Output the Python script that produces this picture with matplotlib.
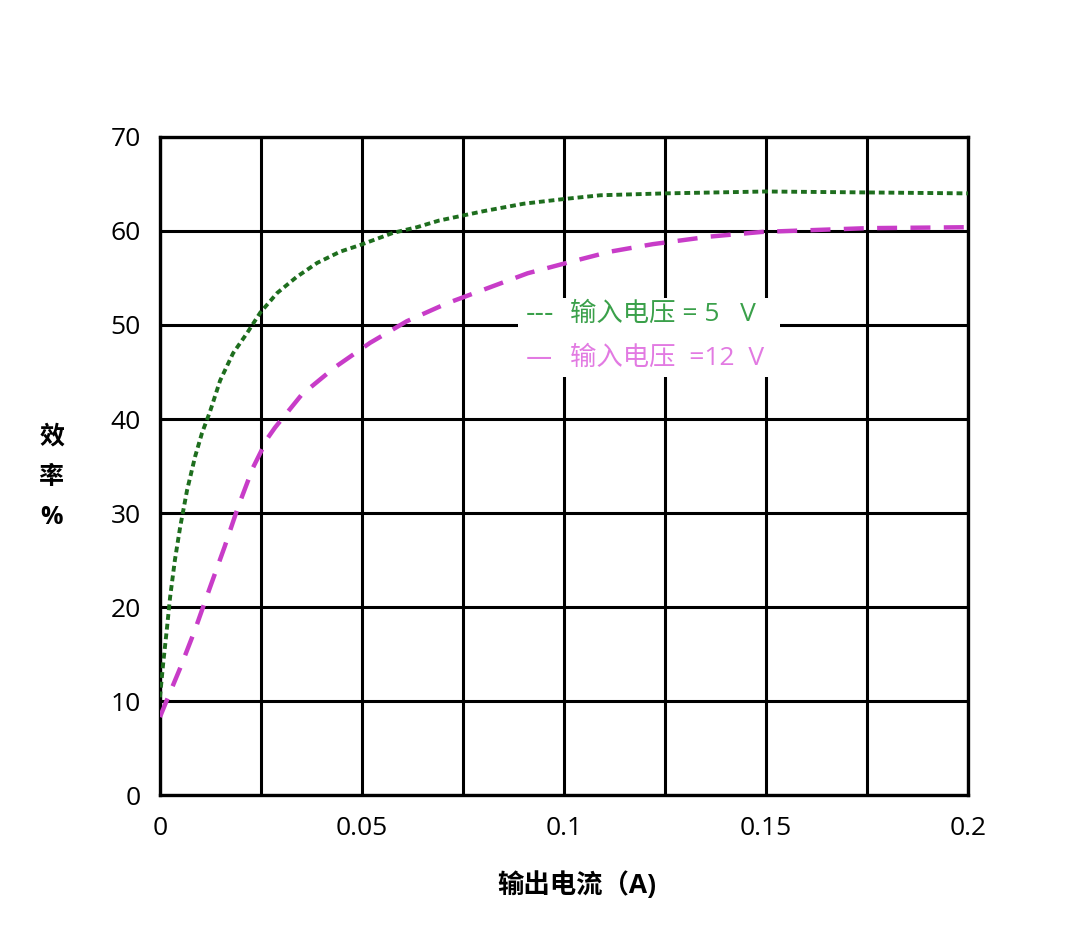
import numpy as np
import matplotlib
matplotlib.use("Agg")
import matplotlib.pyplot as plt
from matplotlib.ticker import MultipleLocator, FuncFormatter

plt.rcParams['font.family'] = ['Open Sans', 'Noto Sans CJK SC', 'DejaVu Sans']

### --- data
x_5v  = [0, 0.0008, 0.0017, 0.0025, 0.0037, 0.005, 0.0067, 0.0087, 0.0104, 0.0124,
         0.0149, 0.0181, 0.0215, 0.0248, 0.029, 0.0338, 0.0389, 0.0446, 0.0495,
         0.0577, 0.0636, 0.069, 0.08, 0.09, 0.1, 0.109, 0.125, 0.15, 0.175, 0.2]
y_5v  = [10.4, 14.0, 17.6, 21.0, 25.0, 28.5, 32.4, 36.0, 38.5, 40.8,
         44.1, 47.0, 49.1, 51.3, 53.4, 55.1, 56.6, 57.8, 58.5,
         59.8, 60.4, 61.1, 62.1, 62.9, 63.4, 63.8, 64.0, 64.2, 64.1, 64.0]

x_12v = [0, 0.002, 0.005, 0.0087, 0.0124, 0.016, 0.0193, 0.023, 0.0267, 0.0285,
         0.0351, 0.0433, 0.052, 0.0611, 0.071, 0.081, 0.091, 0.1015, 0.1114,
         0.122, 0.136, 0.149, 0.175, 0.2]
y_12v = [8.3, 10.4, 13.5, 17.6, 22.1, 26.4, 30.6, 34.8, 38.0, 39.1,
         42.6, 45.5, 48.1, 50.4, 52.3, 53.9, 55.5, 56.7, 57.8,
         58.6, 59.4, 59.9, 60.3, 60.4]

legend_marks  = ['---', '—']
legend_labels = ['输入电压 = 5   V', '输入电压  =12  V']
x_label = '输出电流（A)'
y_label = '效\n率\n%'

### --- figure
fig = plt.figure(figsize=(10.8, 9.44), dpi=100)
ax  = fig.add_axes([0.1481, 0.1578, 0.7482, 0.6971])

ax.set_xlim(0, 0.2)
ax.set_ylim(0, 70)
ax.xaxis.set_major_locator(MultipleLocator(0.05))
ax.xaxis.set_minor_locator(MultipleLocator(0.025))
ax.yaxis.set_major_locator(MultipleLocator(10))
ax.xaxis.set_major_formatter(FuncFormatter(lambda v, p: '%g' % round(v, 3)))
ax.grid(True, which='both', color='black', linewidth=2.2)
ax.tick_params(which='both', length=0)
ax.tick_params(axis='x', pad=15, labelsize=19)
ax.tick_params(axis='y', pad=14, labelsize=19)
for s in ax.spines.values():
    s.set_linewidth(2.4)
ax.set_axisbelow(True)

ax.plot(x_5v, y_5v, color='#1e6e1e', linewidth=2.8,
        linestyle=(0, (1.5, 1.0)), dash_capstyle='butt', zorder=3)
ax.plot(x_12v, y_12v, color='#c83cc8', linewidth=3.2,
        linestyle=(0, (4.5, 3.0)), dash_capstyle='butt', zorder=3)

### --- legend box as plain texts on white
ax.add_patch(plt.Rectangle((0.443, 0.635), 0.324, 0.12, transform=ax.transAxes,
                           facecolor='white', edgecolor='none', zorder=4))
legend_colors = ['#3aa04a', '#e27ae2']
legend_y = [0.731, 0.664]
for mark, lab, c, yy in zip(legend_marks, legend_labels, legend_colors, legend_y):
    ax.text(0.453, yy, mark, transform=ax.transAxes, color=c, fontsize=19,
            family='DejaVu Sans', va='center', ha='left', zorder=5)
    ax.text(0.507, yy, lab, transform=ax.transAxes, color=c, fontsize=19,
            va='center', ha='left', zorder=5)

fig.text(0.534, 0.0625, x_label, fontsize=19, fontweight='bold',
         ha='center', va='center')
fig.text(0.048, 0.494, y_label, fontsize=18, fontweight='bold',
         ha='center', va='center', linespacing=1.8)

fig.savefig('out.png', dpi=100, facecolor='white')
